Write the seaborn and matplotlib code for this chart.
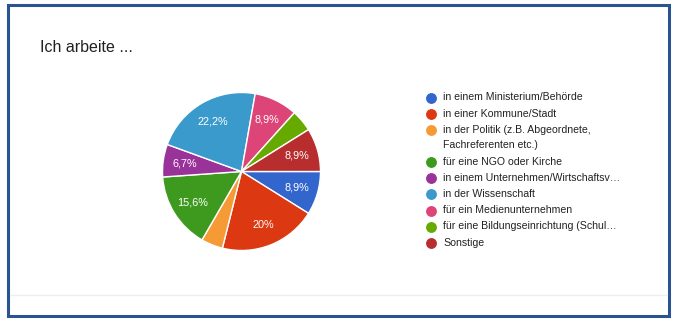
import matplotlib
matplotlib.use("Agg")
import matplotlib.pyplot as plt
from matplotlib.patches import Rectangle
import seaborn as sns

# ---- data ----
title = "Ich arbeite ..."
categories = [
    "in einem Ministerium/Behörde",
    "in einer Kommune/Stadt",
    "in der Politik (z.B. Abgeordnete,\nFachreferenten etc.)",
    "für eine NGO oder Kirche",
    "in einem Unternehmen/Wirtschaftsv…",
    "in der Wissenschaft",
    "für ein Medienunternehmen",
    "für eine Bildungseinrichtung (Schul…",
    "Sonstige",
]
counts = [4, 9, 2, 7, 3, 10, 4, 2, 4]
colors = ["#3366cc", "#dc3912", "#f59a34", "#3e9a1e", "#993399",
          "#3a9acb", "#dd4477", "#66aa00", "#b82e2e"]

sns.set_theme(style="white")
plt.rcParams['font.family'] = ['Liberation Sans', 'DejaVu Sans']

W, H = 675, 326
fig = plt.figure(figsize=(W / 100, H / 100), dpi=100)
fig.patch.set_facecolor("white")

# overlay axes in pixel coordinates
ov = fig.add_axes([0, 0, 1, 1])
ov.set_xlim(0, W)
ov.set_ylim(H, 0)
ov.axis("off")
ov.patch.set_alpha(0)

ov.add_patch(Rectangle((8, 5), 661, 311, fill=False, edgecolor="#2a5391", lw=2.2))
ov.plot([10, 667], [295, 295], color="#eeeeee", lw=1)
ov.text(40, 47, title, fontsize=11.5, color="#212121", va="center", ha="left")

palette = sns.color_palette(colors)

# legend drawn from categories
y = 98
for cat, col in zip(categories, palette):
    ov.plot([431], [y], marker="o", markersize=6.8, color=col, ls="none")
    lines = cat.split("\n")
    for k, ln in enumerate(lines):
        ov.text(443, y - 0.5 + k * 15.5, ln, fontsize=7.6, color="#222222", va="center", ha="left")
    y += 16.2 + (len(lines) - 1) * 15.5

# pie
cx, cy, r = 241.5, 171.5, 79
ax = fig.add_axes([(cx - 80) / W, (H - cy - 80) / H, 160 / W, 160 / H])


def fmt(p):
    if p < 5:
        return ""
    s = f"{p:.1f}"
    if s.endswith(".0"):
        s = s[:-2]
    return s.replace(".", ",") + "%"


wedges, texts, autotexts = ax.pie(
    counts, colors=palette, startangle=0, counterclock=False,
    radius=r / 80, autopct=fmt, pctdistance=0.73,
    wedgeprops=dict(edgecolor="white", linewidth=1),
    textprops=dict(color="white", fontsize=7.8),
)
ax.set_xlim(-1, 1)
ax.set_ylim(-1, 1)
ax.set_aspect("equal")
ax.axis("off")

fig.savefig("out.png", dpi=100)
